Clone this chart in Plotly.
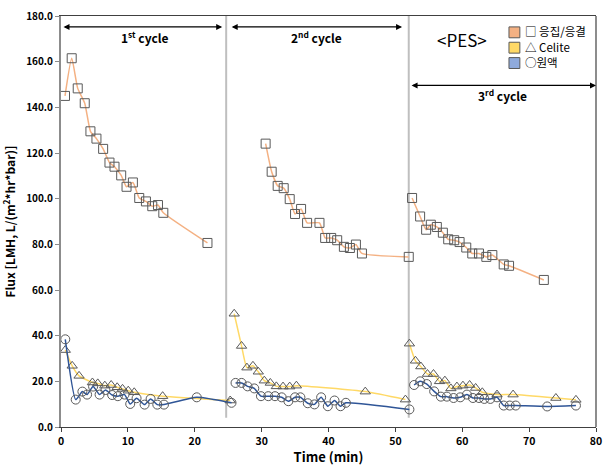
import plotly.graph_objects as go

# None separates the three filtration cycles
# 응집/응결 (squares)
coag_x = [0.6, 1.6, 2.5, 3.55, 4.4, 5.3, 6.3, 7.25, 8.0, 9.0, 9.8, 10.75, 11.7, 12.7, 13.65, 14.5, 15.3, 21.9, None,
          30.6, 31.5, 32.4, 33.3, 34.2, 35.0, 35.9, 36.8, 38.65, 39.5, 40.4, 41.3, 42.3, 43.2, 44.1, 45.0, 52.0, None,
          52.5, 53.7, 54.6, 55.3, 56.2, 57.1, 57.9, 58.8, 59.6, 60.6, 61.5, 62.5, 63.6, 64.5, 66.2, 67.0, 72.2]
coag_y = [145.0, 161.5, 148.3, 141.8, 129.5, 126.3, 121.8, 115.8, 114.0, 110.2, 105.2, 107.1, 100.3, 98.8, 96.7, 97.2, 93.8, 80.6, None,
          124.1, 111.8, 105.6, 104.6, 99.8, 93.3, 95.5, 89.4, 89.4, 82.8, 82.8, 81.8, 78.9, 78.4, 79.9, 76.0, 74.5, None,
          100.3, 92.2, 86.4, 88.6, 87.6, 85.1, 82.2, 81.8, 81.0, 78.6, 76.0, 76.0, 74.5, 75.3, 71.2, 70.6, 64.4]

# Celite (triangles)
celite_x = [0.64, 1.67, 2.7, 4.7, 5.5, 6.55, 7.5, 8.4, 9.2, 10.06, 10.95, 15.2, 25.3, None,
            25.9, 27.0, 27.8, 28.7, 29.5, 30.4, 31.3, 32.2, 33.2, 34.2, 35.2, 45.5, 51.5, None,
            52.1, 53.0, 53.8, 54.8, 55.7, 56.6, 57.4, 58.3, 59.2, 60.1, 61.1, 62.0, 63.0, 65.2, 67.6, 74.0, 77.0]
celite_y = [33.7, 26.8, 22.4, 19.5, 19.1, 18.1, 18.4, 17.4, 16.7, 15.9, 15.2, 13.5, 11.6, None,
            49.6, 35.5, 26.0, 26.8, 24.2, 20.3, 19.3, 17.8, 17.7, 17.7, 18.1, 15.5, 12.0, None,
            36.5, 29.0, 26.5, 23.2, 23.2, 20.0, 20.3, 16.9, 17.7, 18.1, 18.4, 17.1, 15.2, 14.2, 14.2, 12.7, 11.9]

# 원액 (circles)
raw_x = [0.64, 2.2, 3.2, 3.9, 4.8, 5.77, 6.65, 7.65, 8.5, 9.5, 10.35, 11.3, 12.5, 13.4, 14.4, 15.4, 20.3, 25.5, None,
         26.1, 27.0, 27.9, 28.9, 29.9, 31.0, 32.0, 33.0, 34.0, 35.0, 35.8, 36.9, 37.9, 38.9, 39.9, 40.9, 41.8, 42.6, 52.1, None,
         52.8, 53.7, 54.7, 55.8, 56.8, 57.7, 58.7, 59.7, 60.7, 61.6, 62.5, 63.3, 64.2, 65.2, 66.2, 67.1, 68.0, 72.7, 77.0]
raw_y = [38.4, 12.0, 15.5, 14.2, 17.7, 14.2, 16.2, 14.0, 13.5, 14.2, 10.1, 12.6, 9.8, 12.3, 9.8, 9.8, 13.0, 10.6, None,
         19.3, 19.3, 17.8, 16.9, 13.5, 13.5, 13.5, 13.0, 11.3, 13.0, 13.0, 10.4, 9.9, 13.0, 9.1, 11.6, 9.1, 10.6, 7.7, None,
         18.4, 20.0, 18.8, 15.6, 13.3, 13.3, 12.7, 13.0, 14.2, 12.7, 12.7, 12.3, 12.3, 13.0, 9.4, 9.4, 9.4, 9.0, 9.4]

series = [
    ("□ 응집/응결", coag_x, coag_y, "#F4B183", "square-open"),
    ("△ Celite", celite_x, celite_y, "#FFD966", "triangle-up-open"),
    ("○원액", raw_x, raw_y, "#2F5597", "circle-open"),
]
legend_patch = ["#F4B183", "#FFD966", "#8FAADC"]

cycle_dividers = [24.7, 52.0]
cycles = [
    ("1<sup>st</sup> cycle", 0.15, 24.1, 175.2, 12.5, 170.8),
    ("2<sup>nd</sup> cycle", 25.3, 51.0, 175.2, 38.2, 170.8),
    ("3<sup>rd</sup> cycle", 52.2, 80.0, 149.6, 66.0, 145.2),
]

FONT = "Noto Sans CJK KR"

# plot-area pixel geometry helpers (for paper-referenced decorations)
PL, PR, PT, PB = 61, 602, 12, 427
def px(x):
    return (x - PL) / (PR - PL)
def py(y):
    return 1 - (y - PT) / (PB - PT)

fig = go.Figure()

for name, xs, ys, col, sym in series:
    fig.add_trace(go.Scatter(
        x=xs, y=ys, mode="lines+markers", name=name, connectgaps=False,
        line=dict(color=col, width=1.5, shape="spline", smoothing=0.5),
        marker=dict(symbol=sym, color="#595959", size=9, line=dict(width=1)),
        showlegend=False,
    ))

for xd in cycle_dividers:
    fig.add_shape(type="line", x0=xd, x1=xd, y0=4, y1=180, xref="x", yref="y",
                  line=dict(color="#BFBFBF", width=2), layer="below")

for label, x0, x1, ya, xl, yl in cycles:
    fig.add_annotation(x=x1, y=ya, ax=x0, ay=ya, xref="x", yref="y", axref="x", ayref="y",
                       text="", showarrow=True, arrowhead=2, arrowside="end+start",
                       arrowsize=1, arrowwidth=1.2, arrowcolor="#000000")
    fig.add_annotation(x=xl, y=yl, xref="x", yref="y", text=label, showarrow=False,
                       font=dict(family=FONT, size=12, color="#000000", weight="bold"))

fig.add_annotation(x=px(466.7), y=py(36), xref="paper", yref="paper", text="&lt;PES&gt;",
                   showarrow=False, font=dict(family=FONT, size=17, color="#000000"),
                   xanchor="center", yanchor="middle")

# custom legend
for i, (name, xs, ys, col, sym) in enumerate(series):
    yc = 28.5 + i * 15.5
    fig.add_shape(type="rect", xref="paper", yref="paper",
                  x0=px(514), x1=px(525), y0=py(yc + 5.5), y1=py(yc - 5.5),
                  fillcolor=legend_patch[i], line=dict(color="#595959", width=1))
    fig.add_annotation(x=px(528), y=py(yc - 1), xref="paper", yref="paper", text=name,
                       showarrow=False, xanchor="left", yanchor="middle",
                       font=dict(family=FONT, size=11.5, color="#000000"))

# right border
fig.add_shape(type="line", xref="paper", yref="paper", x0=1, x1=1, y0=0, y1=1,
              line=dict(color="#404040", width=1.2))

fig.update_layout(
    width=609, height=466,
    margin=dict(l=PL, r=609 - PR, t=PT, b=466 - PB),
    plot_bgcolor="white", paper_bgcolor="white",
    font=dict(family=FONT, color="#000000"),
    xaxis=dict(range=[0, 80], dtick=10, tick0=0, showgrid=False, zeroline=False,
               showline=True, linecolor="#404040", linewidth=1.2, mirror=True,
               ticks="outside", ticklen=4, tickcolor="#404040",
               tickfont=dict(family=FONT, size=10.5, weight="bold"),
               title=dict(text="Time (min)", font=dict(family=FONT, size=13, weight="bold"), standoff=2)),
    yaxis=dict(range=[0, 180], dtick=20, tick0=0, tickformat=".1f", showgrid=False, zeroline=False,
               showline=True, linecolor="#8C8C8C", linewidth=2,
               ticks="outside", ticklen=4, tickcolor="#8C8C8C",
               tickfont=dict(family=FONT, size=10, weight="bold"),
               title=dict(text="Flux [LMH, L/(m<sup>2</sup>*hr*bar)]",
                          font=dict(family=FONT, size=12, weight="bold"), standoff=8)),
)

fig.write_html("out.html")
